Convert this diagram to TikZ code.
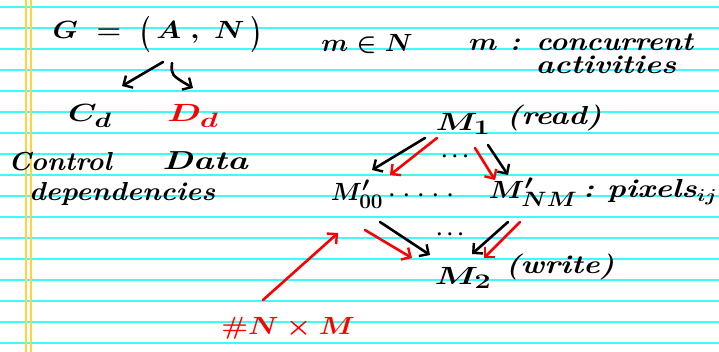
\documentclass[tikz,border=0pt]{standalone}
\usetikzlibrary{arrows.meta,calc}
\definecolor{ruling}{RGB}{64,250,250}
\definecolor{marginline}{RGB}{255,210,70}
\definecolor{redink}{RGB}{250,0,0}
% horizontally stretched text, for the wide handwriting
\newcommand{\wide}[2]{\scalebox{#1}[1]{#2}}
% tall round brackets around the pair
\newcommand{\tallparen}[1]{\raisebox{-0.12em}{\scalebox{0.9}[1.45]{#1}}}
\begin{document}
\begin{tikzpicture}[x=1pt,y=-1pt,
  hand/.style={inner sep=0pt, font=\fontsize{26}{28}\selectfont\bfseries\itshape\boldmath},
  big/.style={inner sep=0pt, font=\fontsize{34}{36}\selectfont\boldmath},
  mid/.style={inner sep=0pt, font=\fontsize{30}{32}\selectfont\boldmath},
  dotsfont/.style={inner sep=0pt, font=\fontsize{22}{24}\selectfont\boldmath},
  stroke/.style={line width=2.6pt, line cap=round, line join=round,
    -{Straight Barb[length=7pt,width=14pt,line width=2.4pt]}},
  blk/.style={stroke, black},
  red/.style={stroke, redink}]

% paper
\fill[white] (0,0) rectangle (719,352);
\useasboundingbox (0,0) rectangle (719,352);
\foreach \k in {0,...,16}
  \draw[ruling, line width=1.8pt] (0,6.7+21*\k) -- (719,6.7+21*\k);
\draw[marginline, line width=1.6pt] (26,0) -- (26,352);
\draw[marginline, line width=1.6pt] (31,0) -- (31,352);

% left column
\node[big] (G) at (157,34) {\wide{1.15}{$G \;=\; \tallparen{$($}\,A\;,\;N\,\tallparen{$)$}$}};
\node[mid] (Cd) at (90,116) {\wide{1.3}{$C_d$}};
\node[mid, text=redink] (Dd) at (193,116) {\wide{1.4}{$D_d$}};
\node[hand] (control) at (60,162) {\wide{1.05}{Control}};
\node[hand] (data) at (205,161) {\wide{1.35}{Data}};
\node[hand] (deps) at (122,194) {\wide{1.1}{dependencies}};

% right column, header
\node[mid] (mN) at (367,44) {\wide{1.05}{$m\in N$}};
\node[hand] (conc) at (581,42) {\wide{1.12}{$m$ : concurrent}};
\node[hand] (act) at (606,65) {\wide{1.2}{activities}};

% pixel graph
\node[mid] (M1) at (463,124) {\wide{1.35}{$M_1$}};
\node[hand] (read) at (554,118) {\wide{1.2}{(read)}};
\node[dotsfont] (topdots) at (455,157) {$\cdotp\cdotp\cdotp$};
\node[mid] (M00) at (357,194) {\wide{1.0}{$M'_{00}$}};
\node[dotsfont] (rowdots) at (421,196) {$\cdotp\,\cdotp\,\cdotp\,\cdotp\,\cdotp$};
\node[mid] (MNM) at (533,192) {\wide{1.15}{$M'_{NM}$}};
\node[hand] (pix) at (650,192) {\wide{1.22}{:\ pixels$_{ij}$}};
\node[dotsfont] (botdots) at (450,235) {$\cdotp\cdotp\cdotp$};
\node[mid] (M2) at (463,278) {\wide{1.4}{$M_2$}};
\node[hand] (write) at (560,267) {\wide{1.2}{(write)}};
\node[mid, text=redink] (NM) at (288,328) {\wide{1.15}{$\#N\times M$}};

% arrows from G
\draw[blk] ($(G)+(6,28)$) -- ($(Cd)+(32,-30)$);
\draw[blk] ($(G)+(15,29)$) .. controls ($(G)+(14,41)$) .. ($(Dd)+(0,-28)$);

% M1 to the pixels
\draw[blk] ($(M1)+(-38,14)$) -- ($(M00)+(15,-24)$);
\draw[red] ($(M1)+(-26,14)$) -- ($(M00)+(33,-19)$);
\draw[red] ($(M1)+(12,24)$) -- ($(MNM)+(-38,-12)$);
\draw[blk] ($(M1)+(25,21)$) -- ($(MNM)+(-25,-17)$);

% the pixels to M2
\draw[red] ($(M00)+(8,36)$) -- ($(M2)+(-51,-20)$);
\draw[blk] ($(M00)+(23,28)$) -- ($(M2)+(-33,-23)$);
\draw[blk] ($(MNM)+(-25,30)$) -- ($(M2)+(9,-24)$);
\draw[red] ($(MNM)+(-13,30)$) -- ($(M2)+(21,-20)$);

% count of pixels
\draw[red] ($(NM)+(-25,-28)$) -- ($(M00)+(-19,39)$);
\end{tikzpicture}
\end{document}
